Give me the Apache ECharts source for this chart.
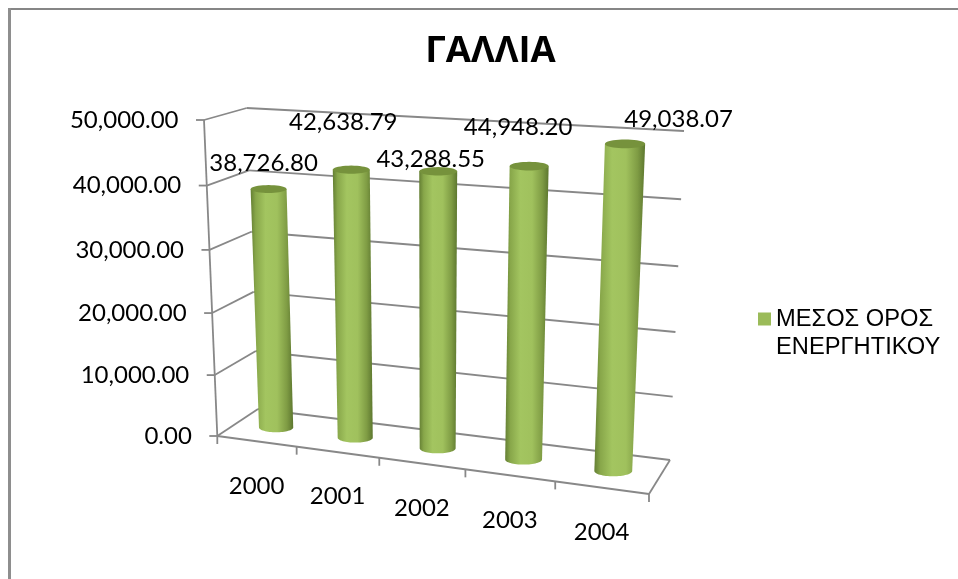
<!DOCTYPE html>
<html><head><meta charset="utf-8">
<style>html,body{margin:0;padding:0;background:#fff}#c{width:958px;height:579px}</style>
<script src="https://cdn.jsdelivr.net/npm/echarts@6/dist/echarts.min.js"></script>
</head><body><div id="c"></div>
<script>
const titleText = 'ΓΑΛΛΙΑ';
const seriesName = 'ΜΕΣΟΣ ΟΡΟΣ\nΕΝΕΡΓΗΤΙΚΟΥ';
const categories = ['2000', '2001', '2002', '2003', '2004'];
const values = [38726.80, 42638.79, 43288.55, 44948.20, 49038.07];
const valueTicks = [0, 10000, 20000, 30000, 40000, 50000];
const valueMax = 50000;

// Layout of the 3D box as seen on screen: [category 0|1][depth 0|1][value 0|1]
const box = {
  f0b: [217.3, 436], f1b: [649, 494], b0b: [258, 409], b1b: [670, 460],
  f0t: [204, 120], f1t: [665, 149], b0t: [246.7, 108], b1t: [684, 131]
};
const catPersp = 1.11, valPersp = 1.047, barDepth = 0.5, barHalf = 0.0445, ellipseRatio = 0.28;
const labelOffsets = [[-5, -26], [-8, -47], [-7.5, -12], [-11, -39], [53.5, -25]];
const GRID = { left: 100, top: 100, width: 500, height: 300 };
const gridLine = '#888888';
const textFont = 'Lato, "Open Sans", sans-serif';

const mix = (a, b, t) => [a[0] + (b[0] - a[0]) * t, a[1] + (b[1] - a[1]) * t];
function project(c, d, v) {
  const cp = c / (catPersp + (1 - catPersp) * c);
  const vp = v / (valPersp + (1 - valPersp) * v);
  const bot = mix(mix(box.f0b, box.f1b, cp), mix(box.b0b, box.b1b, cp), d);
  const top = mix(mix(box.f0t, box.f1t, cp), mix(box.b0t, box.b1t, cp), d);
  return mix(bot, top, vp);
}
const toC = px => (px - GRID.left) / GRID.width;
const toV = py => 1 - (py - GRID.top) / GRID.height;
const seg = (p, q, z) => ({
  type: 'line', z2: z || 1,
  shape: { x1: p[0], y1: p[1], x2: q[0], y2: q[1] },
  style: { stroke: gridLine, lineWidth: 1.8 }
});

function renderFrame(params, api) {
  const ch = [];
  const band = api.size([1, 0])[0];
  // value gridlines: side wall + back wall + tick + label
  valueTicks.forEach(t => {
    const v = toV(api.coord([0, t])[1]);
    const f = project(0, 0, v), b = project(0, 1, v), r = project(1, 1, v);
    ch.push(seg(f, b), seg(b, r), seg(f, [f[0] - 8, f[1]]));
    ch.push({
      type: 'text',
      style: {
        text: t.toLocaleString('en-US', { minimumFractionDigits: 2, maximumFractionDigits: 2 }),
        x: f[0] - 25.5, y: f[1], align: 'right', verticalAlign: 'middle',
        fontFamily: textFont, fontSize: 24, fill: '#000'
      }
    });
  });
  // vertical axis and floor edges
  ch.push(seg(project(0, 0, 0), project(0, 0, 1)));
  ch.push(seg(project(0, 0, 0), project(1, 0, 0)));
  ch.push(seg(project(1, 0, 0), project(1, 1, 0)));
  // category ticks and labels
  categories.forEach((name, i) => {
    const mid = toC(api.coord([i, 0])[0]);
    const l = mid - band / 2 / GRID.width;
    const p = project(l, 0, 0);
    ch.push(seg(p, [p[0], p[1] + 8]));
    if (i === categories.length - 1) {
      const q = project(1, 0, 0);
      ch.push(seg(q, [q[0], q[1] + 8]));
    }
    const m = project(mid, 0, 0);
    ch.push({
      type: 'text',
      style: {
        text: name, x: m[0], y: m[1] + 44.5, align: 'center', verticalAlign: 'middle',
        fontFamily: textFont, fontSize: 24, fill: '#000'
      }
    });
  });
  return { type: 'group', children: ch };
}

function ellipsePts(cx, cy, rx, ry, from, to, n) {
  const out = [];
  for (let k = 0; k <= n; k++) {
    const a = from + (to - from) * k / n;
    out.push([cx + rx * Math.cos(a), cy + ry * Math.sin(a)]);
  }
  return out;
}

function renderBar(params, api) {
  const i = api.value(0), val = api.value(1);
  const top = api.coord([i, val]), base = api.coord([i, 0]);
  const c = toC(top[0]), v = toV(top[1]), v0 = toV(base[1]);
  const half = barHalf * (1 - 0.08 * c);
  const bL = project(c - half, barDepth, v0), bR = project(c + half, barDepth, v0);
  const tL = project(c - half, barDepth, v), tR = project(c + half, barDepth, v);
  const bc = mix(bL, bR, 0.5), tc = mix(tL, tR, 0.5);
  const brx = (bR[0] - bL[0]) / 2, trx = (tR[0] - tL[0]) / 2;
  const body = [[tc[0] - trx, tc[1]]]
    .concat(ellipsePts(bc[0], bc[1], brx, brx * ellipseRatio, Math.PI, 0, 32))
    .concat([[tc[0] + trx, tc[1]]]);
  const off = labelOffsets[i];
  return {
    type: 'group',
    children: [
      {
        type: 'polygon', shape: { points: body },
        style: {
          fill: new echarts.graphic.LinearGradient(0, 0, 1, 0, [
            { offset: 0, color: '#647f33' },
            { offset: 0.12, color: '#88a74a' },
            { offset: 0.35, color: '#a3c560' },
            { offset: 0.62, color: '#a0c15d' },
            { offset: 0.85, color: '#7f9c44' },
            { offset: 1, color: '#5d772f' }
          ])
        }
      },
      {
        type: 'polygon',
        shape: { points: ellipsePts(tc[0], tc[1], trx, trx * 0.22, 0, Math.PI * 2, 40) },
        style: { fill: '#76923c' }
      },
      {
        type: 'text',
        style: {
          text: val.toLocaleString('en-US', { minimumFractionDigits: 2, maximumFractionDigits: 2 }),
          x: tc[0] + off[0], y: tc[1] + off[1], align: 'center', verticalAlign: 'middle',
          fontFamily: textFont, fontSize: 24, fill: '#000'
        }
      }
    ]
  };
}

const chart = echarts.init(document.getElementById('c'), null, { renderer: 'canvas' });
chart.setOption({
  animation: false,
  backgroundColor: '#fff',
  title: {
    text: titleText, left: 485.5, top: 28, textAlign: 'center',
    textStyle: { fontFamily: '"Open Sans", sans-serif', fontWeight: 'bold', fontSize: 36.5, color: '#000' }
  },
  grid: GRID,
  xAxis: { type: 'category', data: categories, show: false },
  yAxis: { type: 'value', min: 0, max: valueMax, interval: 10000, show: false },
  legend: {
    left: 753, top: 300, orient: 'vertical', itemWidth: 13, itemHeight: 41, itemGap: 0,
    selectedMode: false,
    data: [{ name: seriesName, icon: 'path://M0 0H13V13H0Z M0 41H0.01V41Z' }],
    textStyle: { fontFamily: '"Liberation Sans", Arial, sans-serif', fontSize: 23.7, lineHeight: 28, color: '#000' }
  },
  graphic: [
    { type: 'rect', shape: { x: 8, y: 8, width: 950, height: 2 }, style: { fill: '#868686' }, silent: true },
    { type: 'rect', shape: { x: 8, y: 8, width: 3, height: 571 }, style: { fill: '#8e8e8e' }, silent: true }
  ],
  series: [
    { type: 'custom', name: 'frame', coordinateSystem: 'cartesian2d', z: 1, silent: true,
      renderItem: renderFrame, data: [[0, 0]] },
    { type: 'custom', name: seriesName, coordinateSystem: 'cartesian2d', z: 2, silent: true,
      itemStyle: { color: '#9bbb59' },
      renderItem: renderBar, data: values.map((v, i) => [i, v]), encode: { x: 0, y: 1 } }
  ]
});
</script></body></html>
